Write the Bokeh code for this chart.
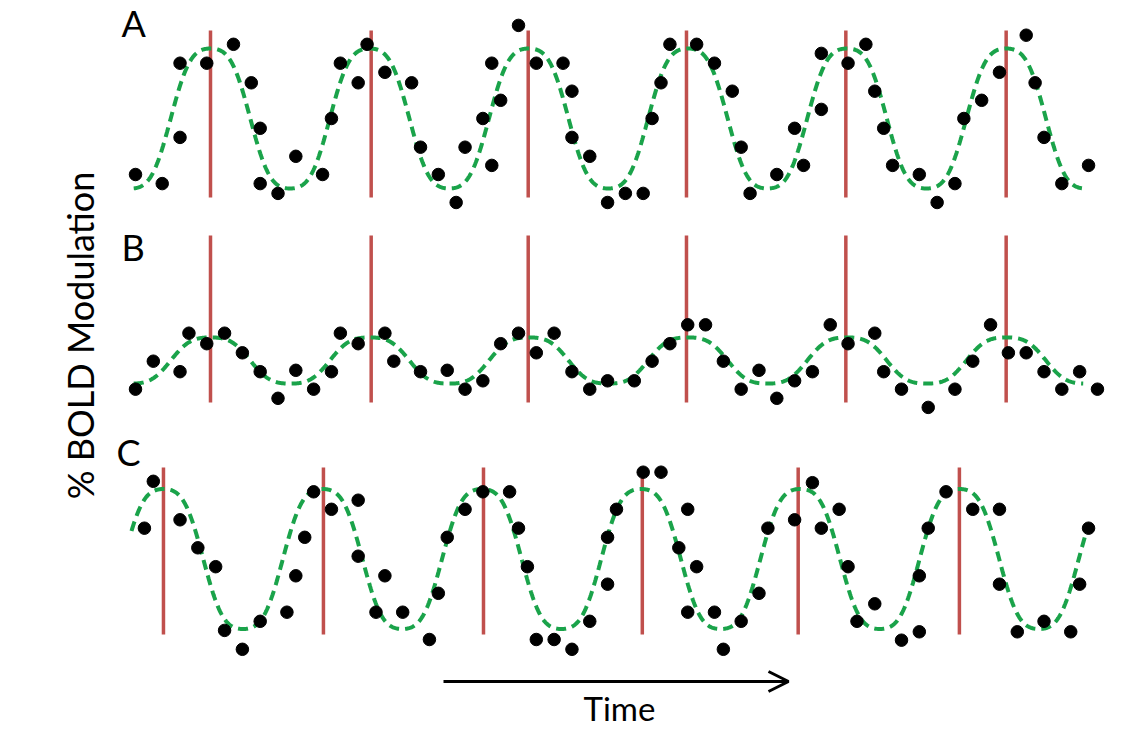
import numpy as np
from bokeh.plotting import figure
from bokeh.models import Range1d, Label, Arrow, OpenHead
from bokeh.embed import file_html
from bokeh.resources import INLINE

# ---------------- data (time in scan volumes, signal in % BOLD) ----------------
A_t = [0, 3, 5, 5, 8, 11, 13, 14, 14, 16, 18, 21, 22, 23, 25, 26, 28, 31, 32, 34,
       36, 37, 39, 40, 40, 41, 43, 45, 48, 49, 49, 51, 53, 55, 57, 58, 59, 60, 63, 65,
       67, 68, 69, 72, 74, 75, 77, 77, 80, 82, 83, 84, 85, 88, 90, 92, 93, 95, 97, 100,
       101, 102, 104, 107]
A_v = [-0.80, -0.93, 0.79, -0.27, 0.79, 1.06, 0.51, -0.14, -0.93, -1.07, -0.54, -0.80, 0.00, 0.79, 0.51, 1.06, 0.66, 0.51, -0.41, -0.80,
       -1.20, -0.41, 0.00, -0.67, 0.79, 0.26, 1.33, 0.79, 0.79, 0.39, -0.27, -0.54, -1.20, -1.07, -1.07, 0.00, 0.51, 1.06, 1.06, 0.79,
       0.39, -0.41, -1.07, -0.80, -0.14, -0.67, 0.13, 0.93, 0.79, 1.06, 0.39, -0.14, -0.67, -0.80, -1.20, -0.93, 0.00, 0.26, 0.66, 1.19,
       0.51, -0.27, -0.93, -0.67]

B_t = [0, 2, 5, 6, 8, 10, 12, 14, 16, 18, 20, 22, 23, 25, 28, 29, 32, 35, 37, 39,
       41, 43, 45, 47, 49, 51, 53, 56, 58, 60, 62, 64, 66, 68, 70, 72, 74, 76, 78, 80,
       83, 84, 86, 89, 92, 94, 96, 98, 100, 102, 104, 106, 108]
B_v = [-0.41, -0.01, -0.16, 0.39, 0.24, 0.39, 0.11, -0.16, -0.54, -0.14, -0.41, -0.16, 0.39, 0.24, 0.39, -0.01, -0.16, -0.14, -0.41, -0.29,
       0.24, 0.39, 0.11, 0.39, -0.16, -0.41, -0.29, -0.29, -0.01, 0.24, 0.51, 0.51, -0.01, -0.41, -0.14, -0.54, -0.29, -0.16, 0.51, 0.24,
       0.39, -0.16, -0.41, -0.67, -0.41, -0.01, 0.51, 0.11, 0.11, -0.16, -0.41, -0.16, -0.41]

C_t = [1, 2, 5, 7, 9, 10, 12, 14, 17, 18, 19, 20, 22, 25, 25, 27, 28, 30, 33, 34,
       35, 37, 39, 42, 43, 44, 45, 47, 49, 51, 53, 53, 54, 57, 59, 61, 62, 62, 63, 65,
       66, 68, 70, 71, 74, 76, 77, 79, 80, 81, 83, 86, 88, 88, 89, 91, 94, 97, 97, 99,
       102, 105, 106, 107]
C_v = [0.44, 1.11, 0.56, 0.16, -0.11, -1.02, -1.29, -0.89, -0.76, -0.24, 0.31, 0.96, 0.71, 0.84, 0.04, -0.76, -0.24, -0.76, -1.15, -0.49,
       0.31, 0.71, 0.96, 0.96, 0.44, -0.11, -1.15, -1.15, -1.29, -0.89, -0.36, 0.31, 0.71, 1.24, 1.24, 0.16, 0.71, -0.76, -0.11, -0.76,
       -1.29, -0.89, -0.49, 0.44, 0.56, 1.09, 0.44, 0.71, -0.11, -0.89, -0.64, -1.16, -1.04, -0.24, 0.44, 0.96, 0.71, 0.71, -0.36, -1.04,
       -0.89, -1.04, -0.36, 0.44]

# stimulus onsets (red lines)
A_events = [8.42, 26.46, 44.09, 61.86, 79.75, 97.75]
B_events = [8.42, 26.46, 44.09, 61.86, 79.75, 97.75]
C_events = [3.14, 21.10, 39.07, 56.90, 74.40, 92.50]

# fitted model amplitudes (% BOLD) and fit window
A_amp, B_amp, C_amp = 1.0, 0.33, 1.0
A_fit = (-0.2, 106.4)
B_fit = (-0.2, 106.4)
C_fit = (-0.45, 106.9)
HARM = 0.08  # 3rd-harmonic weight of fitted model

# ---------------- layout ----------------
W, H = 1124, 729
PX_T = 8.907        # px per volume
X0 = 135            # screen px of t = 0
PX_U = 70.0         # px per % unit
def tx(px):
    return (px - X0) / PX_T
def ty(py):
    return (H - py) / PX_U
BL = 0.42           # baseline compensation (fraction of font size)

panels = [
    dict(t=A_t, v=A_v, ev=A_events, amp=A_amp, fit=A_fit, base=ty(118), top=ty(30), bot=ty(197),
         lab="A", lx=121, ly=38),
    dict(t=B_t, v=B_v, ev=B_events, amp=B_amp, fit=B_fit, base=ty(360), top=ty(235), bot=ty(402),
         lab="B", lx=121, ly=262),
    dict(t=C_t, v=C_v, ev=C_events, amp=C_amp, fit=C_fit, base=ty(558.5), top=ty(467), bot=ty(634),
         lab="C", lx=116, ly=467),
]

p = figure(width=W, height=H, output_backend="svg", toolbar_location=None,
           x_range=Range1d(tx(0), tx(W)), y_range=Range1d(ty(H), ty(0)),
           min_border=0, outline_line_color=None, background_fill_color="white",
           border_fill_color="white")
p.xaxis.visible = False
p.yaxis.visible = False
p.grid.visible = False

RED = "#c0504d"
GREEN = "#1aa34a"
FONT = "Lato"

for pn in panels:
    ev = pn["ev"]
    p.segment(x0=ev, x1=ev, y0=[pn["bot"]] * len(ev), y1=[pn["top"]] * len(ev),
              line_color=RED, line_width=3.5)
    period = (ev[-1] - ev[0]) / (len(ev) - 1)
    tt = np.linspace(pn["fit"][0], pn["fit"][1], 1200)
    th = 2 * np.pi * (tt - ev[0]) / period
    model = pn["amp"] * (np.cos(th) - HARM * np.cos(3 * th)) / (1 - HARM)
    p.line(tt, pn["base"] + model, line_color=GREEN, line_width=4, line_dash="10 6")
    p.scatter(pn["t"], [pn["base"] + v for v in pn["v"]], size=12.5,
              fill_color="black", line_color="black")
    fs = 36
    p.add_layout(Label(x=tx(pn["lx"]), y=ty(pn["ly"] - BL * fs), text=pn["lab"],
                       text_font=FONT, text_font_size=f"{fs}px", text_color="black",
                       text_align="left", text_baseline="alphabetic"))

# y label (rotated)
fs_y = 36
p.add_layout(Label(x=tx(95 - BL * fs_y), y=ty(335), text="% BOLD Modulation", angle=np.pi / 2,
                   text_font=FONT, text_font_size=f"{fs_y}px", text_color="black",
                   text_align="center", text_baseline="alphabetic"))

# time arrow
p.add_layout(Arrow(x_start=tx(443), y_start=ty(681), x_end=tx(788), y_end=ty(681),
                   line_width=3, line_color="black",
                   end=OpenHead(size=20, line_width=3, line_color="black")))
fs_t = 33
p.add_layout(Label(x=tx(619), y=ty(721 - BL * fs_t), text="Time",
                   text_font=FONT, text_font_size=f"{fs_t}px", text_color="black",
                   text_align="center", text_baseline="alphabetic"))

open("out.html", "w").write(file_html(p, INLINE))
